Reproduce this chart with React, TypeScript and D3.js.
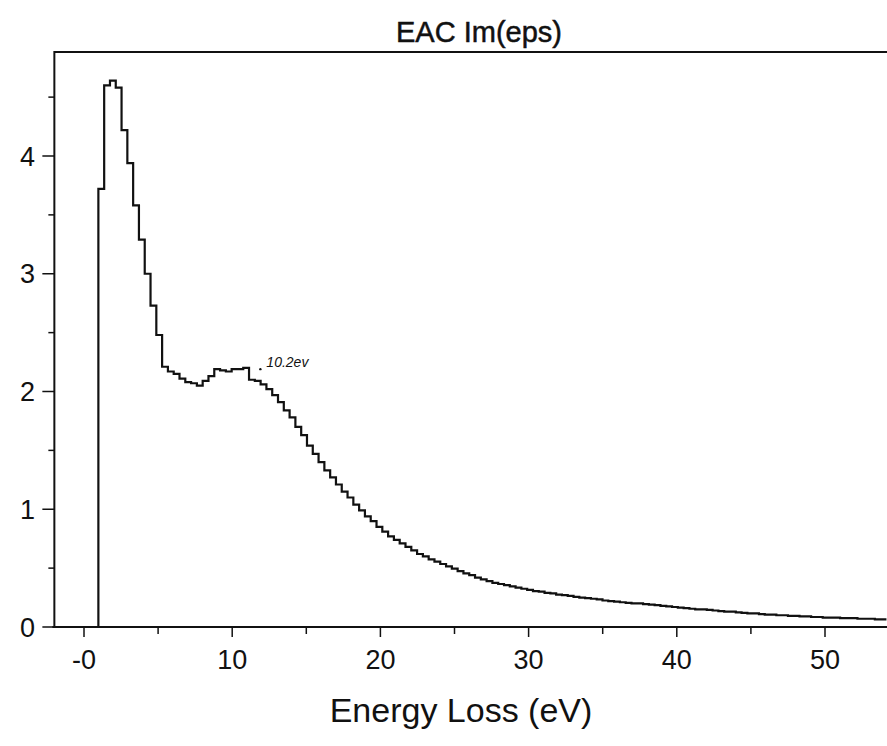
import React from "react";
import * as d3 from "d3";

// ---- data ----
const title = "EAC Im(eps)";
const xAxisLabel = "Energy Loss (eV)";
const xTicksMajor = [0, 10, 20, 30, 40, 50];
const xTickLabels = ["-0", "10", "20", "30", "40", "50"];
const xTicksMinor = [5, 15, 25, 35, 45];
const yTicksMajor = [0, 1, 2, 3, 4];
const yTickLabels = ["0", "1", "2", "3", "4"];
const yTicksMinor = [0.5, 1.5, 2.5, 3.5, 4.5];

// histogram bins: first bin start energy (eV) and bin width (eV)
const binStart = 0.97;
const binWidth = 0.391;
// Im(eps) per bin
const imEps = [
  3.72, 4.6, 4.64, 4.58, 4.22, 3.94, 3.58, 3.29, 3.0, 2.73,
  2.48, 2.21, 2.17, 2.15, 2.11, 2.08, 2.07, 2.05, 2.09, 2.13,
  2.19, 2.18, 2.17, 2.19, 2.19, 2.2, 2.1, 2.09, 2.06, 2.02,
  1.97, 1.91, 1.84, 1.78, 1.7, 1.63, 1.54, 1.47, 1.4, 1.33,
  1.27, 1.21, 1.15, 1.1, 1.04, 0.99, 0.94, 0.9, 0.85, 0.81,
  0.77, 0.74, 0.71, 0.68, 0.65, 0.62, 0.6, 0.575, 0.555, 0.535,
  0.515, 0.495, 0.475, 0.455, 0.44, 0.42, 0.405, 0.39, 0.375, 0.365,
  0.355, 0.345, 0.335, 0.325, 0.315, 0.305, 0.3, 0.29, 0.285, 0.275,
  0.27, 0.265, 0.255, 0.25, 0.245, 0.24, 0.235, 0.225, 0.22, 0.215,
  0.21, 0.205, 0.2, 0.2, 0.195, 0.19, 0.185, 0.18, 0.175, 0.17,
  0.165, 0.16, 0.155, 0.15, 0.15, 0.145, 0.14, 0.135, 0.13, 0.13,
  0.125, 0.12, 0.115, 0.115, 0.11, 0.105, 0.105, 0.1, 0.1, 0.095,
  0.095, 0.09, 0.09, 0.085, 0.085, 0.08, 0.08, 0.08, 0.075, 0.075,
  0.075, 0.07, 0.07, 0.07, 0.065, 0.065,
];
const annotation = { energy: 11.9, value: 2.19, text: "10.2ev" };

const W = 887;
const H = 746;
const FONT = "'Liberation Sans', Arial, Helvetica, sans-serif";

export default function App() {
  const x = d3.scaleLinear().domain([0, 50]).range([84, 825]);
  const y = d3.scaleLinear().domain([0, 4]).range([627, 156]);
  const xLeft = x(-2);
  const xRight = W;
  const yTop = 52;
  const yBottom = y(0);

  const pts: [number, number][] = [[binStart, 0]];
  imEps.forEach((v, i) => pts.push([binStart + i * binWidth, v]));
  pts.push([binStart + imEps.length * binWidth, imEps[imEps.length - 1]]);

  const line = d3
    .line<[number, number]>()
    .x((d) => x(d[0]))
    .y((d) => y(d[1]))
    .curve(d3.curveStepAfter);

  return (
    <svg
      width={W}
      height={H}
      style={{ position: "absolute", left: 0, top: 0, background: "#fff" }}
      fontFamily={FONT}
    >
      <rect x={0} y={0} width={W} height={H} fill="#fff" />
      <defs>
        <clipPath id="plot">
          <rect x={xLeft} y={yTop} width={xRight - xLeft} height={yBottom - yTop + 1} />
        </clipPath>
      </defs>
      {/* title */}
      <text x={479} y={42} textAnchor="middle" fontSize={29} fill="#111" stroke="#111" strokeWidth={0.5}>
        {title}
      </text>
      {/* frame */}
      <line x1={xLeft} y1={yTop} x2={xRight} y2={yTop} stroke="#111" strokeWidth={2} />
      <line x1={xLeft} y1={yTop - 1} x2={xLeft} y2={yBottom + 1} stroke="#111" strokeWidth={2} />
      <line x1={xLeft - 2} y1={yBottom} x2={xRight} y2={yBottom} stroke="#111" strokeWidth={2} />
      {/* y ticks */}
      {yTicksMajor.map((t, i) => (
        <g key={"ym" + t}>
          <line x1={xLeft - 12} x2={xLeft} y1={y(t)} y2={y(t)} stroke="#111" strokeWidth={1.5} />
          <text x={35} y={y(t) + 9.5} textAnchor="end" fontSize={27} fill="#111">
            {yTickLabels[i]}
          </text>
        </g>
      ))}
      {yTicksMinor.map((t) => (
        <line key={"yn" + t} x1={xLeft - 6} x2={xLeft} y1={y(t)} y2={y(t)} stroke="#111" strokeWidth={1.5} />
      ))}
      {/* x ticks */}
      {xTicksMajor.map((t, i) => (
        <g key={"xm" + t}>
          <line x1={x(t)} x2={x(t)} y1={yBottom} y2={yBottom + 10} stroke="#111" strokeWidth={1.5} />
          <text x={x(t)} y={669} textAnchor="middle" fontSize={27} fill="#111">
            {xTickLabels[i]}
          </text>
        </g>
      ))}
      {xTicksMinor.map((t) => (
        <line key={"xn" + t} x1={x(t)} x2={x(t)} y1={yBottom} y2={yBottom + 7} stroke="#111" strokeWidth={1.5} />
      ))}
      {/* x axis label */}
      <text x={461} y={722} textAnchor="middle" fontSize={34} fill="#111">
        {xAxisLabel}
      </text>
      {/* data */}
      <path d={line(pts) || ""} fill="none" stroke="#111" strokeWidth={2.2} clipPath="url(#plot)" />
      {/* annotation */}
      <circle cx={x(annotation.energy)} cy={y(annotation.value)} r={1.2} fill="#111" />
      <text
        x={x(annotation.energy) + 6}
        y={y(annotation.value) - 2}
        fontSize={14}
        fontStyle="italic"
        fill="#111"
      >
        {annotation.text}
      </text>
    </svg>
  );
}
